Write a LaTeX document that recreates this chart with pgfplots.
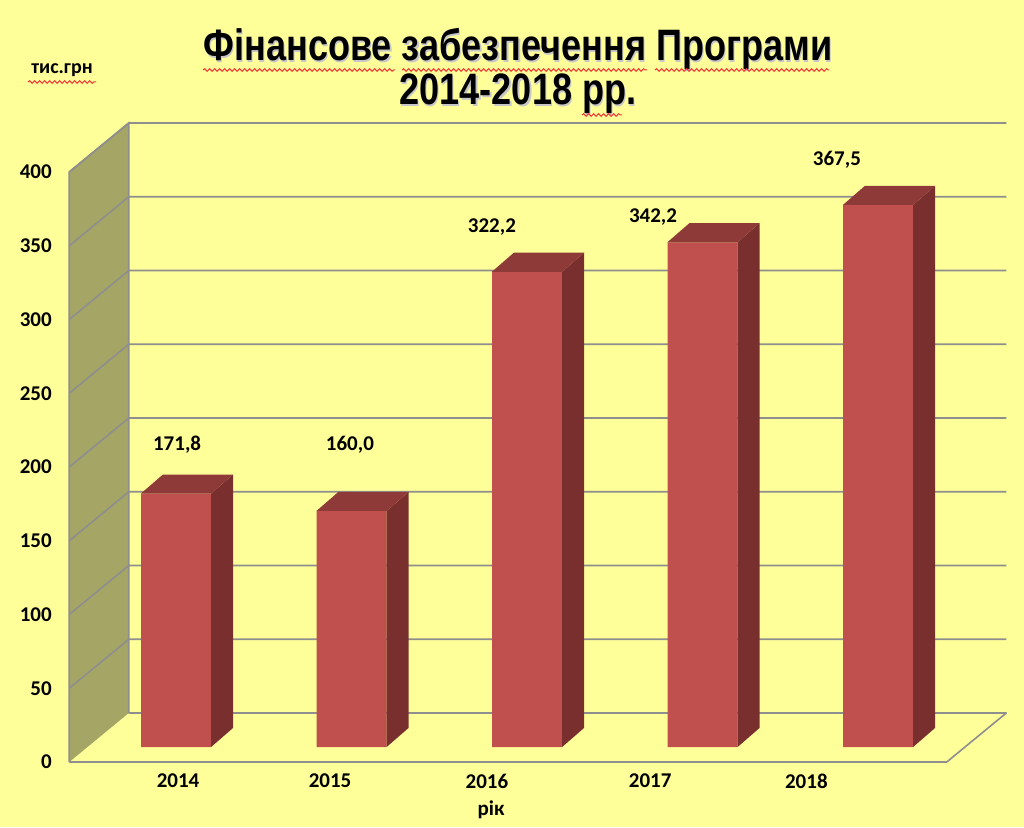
\documentclass[border=0pt]{standalone}
\usepackage{fontspec}
\setmainfont{Carlito}
\newfontfamily\titlefont[FakeStretch=0.82]{Liberation Sans}
\usepackage{pgfplots}
\usepackage{pgfplotstable}
\pgfplotsset{compat=1.18}
\usetikzlibrary{decorations.pathmorphing}

\definecolor{bg}{HTML}{FFFF99}
\definecolor{wall}{HTML}{A5A565}
\definecolor{gridc}{HTML}{8E8E8E}
\definecolor{barfront}{HTML}{C0504D}
\definecolor{bartop}{HTML}{8E3A39}
\definecolor{barside}{HTML}{7A2F2F}
\definecolor{spell}{HTML}{F03838}

% values, tis. hrn
\pgfplotstableread{
x v
0 171.8
1 160.0
2 322.2
3 342.2
4 367.5
}\bars

% data label positions
\pgfplotstableread{
x y lab
0.006 204.7 171,8
0.991 204.7 160,0
1.80 352.5 322,2
2.718 359.3 342,2
3.766 398 367,5
}\labels

\begin{document}
\begin{tikzpicture}
\fill[bg] (0pt,0pt) rectangle (1024pt,827pt);
\useasboundingbox (0pt,0pt) rectangle (1024pt,827pt);

% walls, floor, grid and tick labels (front plane)
\begin{axis}[
  at={(69.25pt,65pt)}, anchor=south west,
  width=877.5pt, height=590pt, scale only axis,
  xmin=-0.5, xmax=4.5, ymin=0, ymax=400,
  clip=false,
  axis line style={draw=none}, tick style={draw=none},
  ytick={0,50,...,400},
  xtick={0.12,0.986,1.88,2.81,3.70},
  xticklabels={2014,2015,2016,2017,2018},
  tick label style={font=\fontsize{21}{24}\selectfont\bfseries},
  /pgf/number format/assume math mode=true,
  yticklabel style={anchor=east, xshift=-14pt},
  xticklabel style={anchor=center, yshift=-19pt},
]
\fill[wall] (axis cs:-0.5,0) -- (axis cs:-0.5,400) -- (axis cs:-0.161,433.2) -- (axis cs:-0.161,33.2) -- cycle;
\draw[gridc, line width=1.6pt, line join=round]
  (axis cs:-0.5,0) -- (axis cs:4.5,0) -- (axis cs:4.839,33.2) -- (axis cs:-0.161,33.2);
\draw[gridc, line width=1.6pt]
  (axis cs:-0.5,0) -- (axis cs:-0.5,400) -- (axis cs:-0.161,433.2) -- (axis cs:-0.161,33.2);
\pgfplotsinvokeforeach{50,100,...,400}{
  \draw[gridc, line width=1.6pt] (axis cs:-0.5,#1) -- (axis cs:-0.161,{#1+33.2}) -- (axis cs:4.839,{#1+33.2});
}
\end{axis}

% bars (middle depth)
\begin{axis}[
  at={(88.25pt,80pt)}, anchor=south west,
  width=877.5pt, height=590pt, scale only axis,
  xmin=-0.5, xmax=4.5, ymin=0, ymax=400,
  hide axis, clip=false,
]
\addplot[ybar, bar width=70pt, bar shift=0pt, fill=barfront, draw=none] table[x=x, y=v] {\bars};
% right side faces
\addplot[fill=barside, draw=none] coordinates {(0.2,0) (0.2,171.8) (0.325,184.7) (0.325,12.9)};
\addplot[fill=barside, draw=none] coordinates {(1.2,0) (1.2,160.0) (1.325,172.9) (1.325,12.9)};
\addplot[fill=barside, draw=none] coordinates {(2.2,0) (2.2,322.2) (2.325,335.1) (2.325,12.9)};
\addplot[fill=barside, draw=none] coordinates {(3.2,0) (3.2,342.2) (3.325,355.1) (3.325,12.9)};
\addplot[fill=barside, draw=none] coordinates {(4.2,0) (4.2,367.5) (4.325,380.4) (4.325,12.9)};
% top faces
\addplot[fill=bartop, draw=none] coordinates {(-0.2,171.8) (0.2,171.8) (0.325,184.7) (-0.075,184.7)};
\addplot[fill=bartop, draw=none] coordinates {(0.8,160.0) (1.2,160.0) (1.325,172.9) (0.925,172.9)};
\addplot[fill=bartop, draw=none] coordinates {(1.8,322.2) (2.2,322.2) (2.325,335.1) (1.925,335.1)};
\addplot[fill=bartop, draw=none] coordinates {(2.8,342.2) (3.2,342.2) (3.325,355.1) (2.925,355.1)};
\addplot[fill=bartop, draw=none] coordinates {(3.8,367.5) (4.2,367.5) (4.325,380.4) (3.925,380.4)};
% value labels
\addplot[draw=none, mark=none, nodes near coords, point meta=explicit symbolic,
  every node near coord/.append style={anchor=center, font=\fontsize{21}{24}\selectfont\bfseries}]
  table[x=x, y=y, meta=lab] {\labels};
\end{axis}

% titles
\begin{scope}[font=\titlefont\bfseries\fontsize{44}{50}\selectfont]
\node[anchor=base, text=black!22] at (519.2pt,764.8pt) {Фінансове забезпечення Програми};
\node[anchor=base] at (518pt,766pt) {Фінансове забезпечення Програми};
\node[anchor=base, text=black!22] at (519.2pt,720.8pt) {2014-2018 рр.};
\node[anchor=base] at (518pt,722pt) {2014-2018 рр.};
\end{scope}
\node[font=\fontsize{20}{24}\selectfont\bfseries] at (62pt,757pt) {тис.грн};
\node[font=\fontsize{21}{24}\selectfont\bfseries] at (491pt,17pt) {рік};

% spell-check underlines
\tikzset{spellline/.style={draw=spell, line width=1pt, decorate,
  decoration={snake, amplitude=1.3pt, segment length=5pt}}}
\draw[spellline] (203pt,757pt) -- (395pt,757pt);
\draw[spellline] (402pt,757pt) -- (647pt,757pt);
\draw[spellline] (655pt,757pt) -- (829pt,757pt);
\draw[spellline] (582pt,712pt) -- (622pt,712pt);
\draw[spellline] (28pt,745pt) -- (96pt,745pt);
\end{tikzpicture}
\end{document}
